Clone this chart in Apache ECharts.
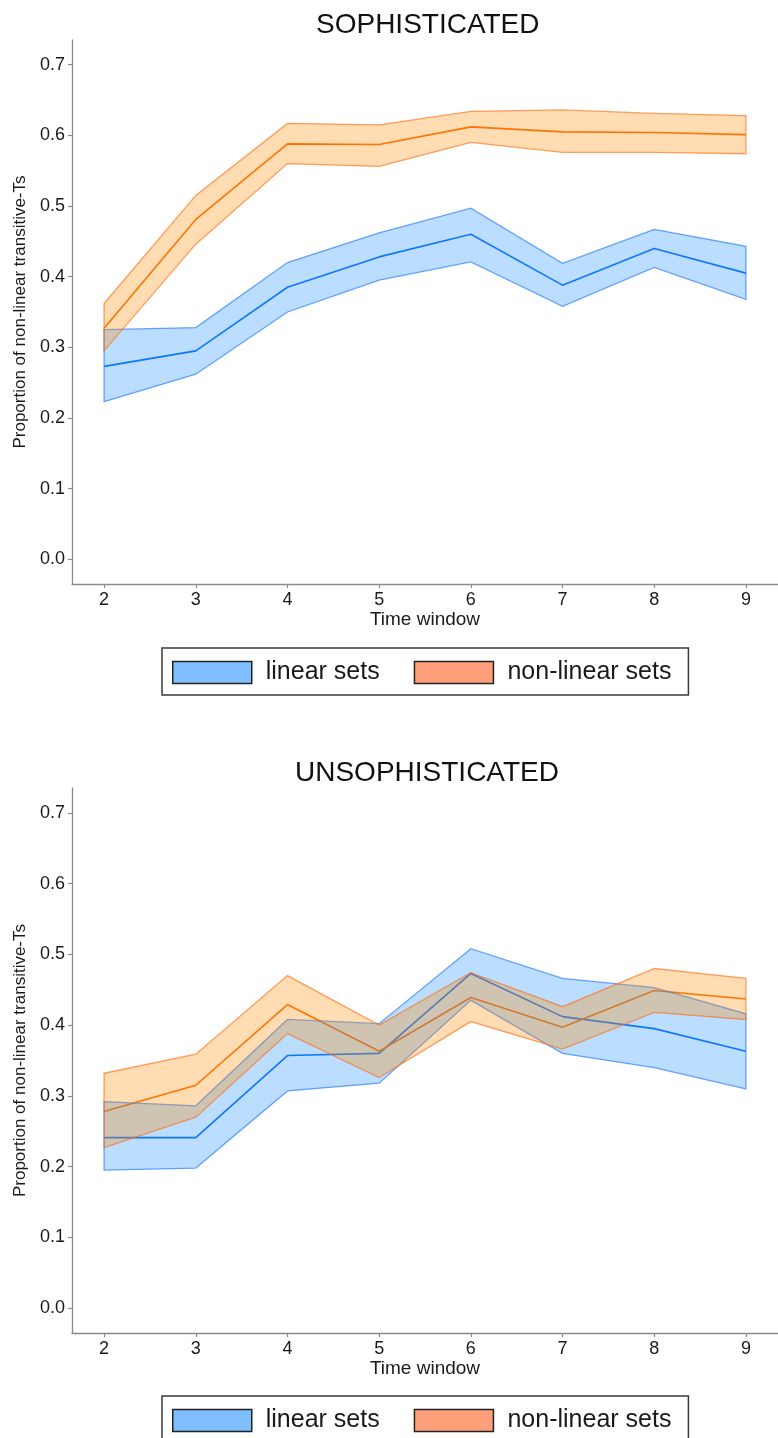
<!DOCTYPE html>
<html>
<head>
<meta charset="utf-8">
<style>
  html, body { margin: 0; padding: 0; background: #ffffff; }
  #chart { width: 778px; height: 1438px; }
</style>
<script src="https://cdn.jsdelivr.net/npm/echarts@6/dist/echarts.min.js"></script>
</head>
<body>
<div id="chart"></div>
<script>
// Time windows on the x axis
const timeWindows = [2, 3, 4, 5, 6, 7, 8, 9];
const yTicks = [0, 0.1, 0.2, 0.3, 0.4, 0.5, 0.6, 0.7];

// SOPHISTICATED panel: mean and ribbon bounds
const sophLinearMean = [0.273, 0.295, 0.385, 0.428, 0.460, 0.388, 0.440, 0.405];
const sophLinearLow  = [0.223, 0.262, 0.350, 0.395, 0.421, 0.358, 0.413, 0.368];
const sophLinearHigh = [0.325, 0.328, 0.420, 0.462, 0.497, 0.419, 0.467, 0.443];
const sophNonLinearMean = [0.327, 0.481, 0.588, 0.587, 0.612, 0.605, 0.604, 0.601];
const sophNonLinearLow  = [0.295, 0.446, 0.560, 0.556, 0.590, 0.576, 0.576, 0.574];
const sophNonLinearHigh = [0.362, 0.515, 0.617, 0.615, 0.634, 0.636, 0.631, 0.628];

// UNSOPHISTICATED panel: mean and ribbon bounds
const unsophLinearMean = [0.241, 0.241, 0.357, 0.360, 0.473, 0.412, 0.395, 0.363];
const unsophLinearLow  = [0.195, 0.198, 0.307, 0.318, 0.435, 0.360, 0.340, 0.310];
const unsophLinearHigh = [0.292, 0.286, 0.408, 0.402, 0.508, 0.466, 0.453, 0.416];
const unsophNonLinearMean = [0.278, 0.315, 0.429, 0.363, 0.439, 0.397, 0.449, 0.437];
const unsophNonLinearLow  = [0.227, 0.270, 0.388, 0.326, 0.405, 0.366, 0.418, 0.408];
const unsophNonLinearHigh = [0.332, 0.359, 0.470, 0.400, 0.474, 0.426, 0.480, 0.466];

const FONT = "'Liberation Sans', Arial, Helvetica, sans-serif";
const AXIS_GREY = '#8a8a8a';

const STYLE = {
  linear: {
    line: '#0a6cff',
    fill: 'rgba(30,144,255,0.30)',
    stroke: 'rgba(30,120,255,0.65)',
    key: '#80BFFF'
  },
  nonLinear: {
    line: '#ff6a00',
    fill: 'rgba(255,140,0,0.30)',
    stroke: 'rgba(255,110,20,0.65)',
    key: '#FFA07A'
  }
};

// One closed ribbon polygon (upper bound forward, lower bound back)
function ribbonRenderer(low, high, st) {
  return function (params, api) {
    if (params.dataIndex !== 0) return null;
    const pts = [];
    for (let i = 0; i < timeWindows.length; i++) pts.push(api.coord([timeWindows[i], high[i]]));
    for (let i = timeWindows.length - 1; i >= 0; i--) pts.push(api.coord([timeWindows[i], low[i]]));
    return {
      type: 'polygon',
      shape: { points: pts },
      style: { fill: st.fill, stroke: st.stroke, lineWidth: 1.3, lineJoin: 'miter' }
    };
  };
}

function ribbonSeries(name, idx, low, high, st) {
  return {
    name: name,
    type: 'custom',
    xAxisIndex: idx,
    yAxisIndex: idx,
    z: 3,
    clip: true,
    silent: true,
    encode: { x: 0, y: [1, 2] },
    data: timeWindows.map((x, i) => [x, low[i], high[i]]),
    renderItem: ribbonRenderer(low, high, st)
  };
}

function meanSeries(name, idx, mean, st) {
  return {
    name: name,
    type: 'line',
    xAxisIndex: idx,
    yAxisIndex: idx,
    z: 2,
    showSymbol: false,
    silent: true,
    lineStyle: { color: st.line, width: 1.6 },
    data: timeWindows.map((x, i) => [x, mean[i]])
  };
}

function xAxisFor(idx) {
  return {
    type: 'value',
    gridIndex: idx,
    min: 1.65,
    max: 9.35,
    name: 'Time window',
    nameLocation: 'middle',
    nameGap: 23,
    nameTextStyle: { fontFamily: FONT, fontSize: 19, color: '#1a1a1a' },
    axisLine: { show: true, onZero: false, lineStyle: { color: AXIS_GREY, width: 1.3 } },
    axisTick: { show: true, length: 4, customValues: timeWindows, lineStyle: { color: AXIS_GREY, width: 1.2 } },
    axisLabel: { customValues: timeWindows, margin: 7, fontFamily: FONT, fontSize: 18, color: '#1a1a1a' },
    splitLine: { show: false }
  };
}

function yAxisFor(idx) {
  return {
    type: 'value',
    gridIndex: idx,
    min: -0.035,
    max: 0.735,
    name: 'Proportion of non-linear transitive-Ts',
    nameLocation: 'middle',
    nameRotate: 90,
    nameGap: 38,
    nameTextStyle: { fontFamily: FONT, fontSize: 17, color: '#1a1a1a' },
    axisLine: { show: true, onZero: false, lineStyle: { color: AXIS_GREY, width: 1.3 } },
    axisTick: { show: true, length: 4, customValues: yTicks, lineStyle: { color: AXIS_GREY, width: 1.2 } },
    axisLabel: {
      customValues: yTicks,
      margin: 7,
      fontFamily: FONT,
      fontSize: 18,
      color: '#1a1a1a',
      formatter: v => v.toFixed(1)
    },
    splitLine: { show: false }
  };
}

function legendFor(top) {
  return {
    left: 162,
    top: top,
    orient: 'horizontal',
    icon: 'rect',
    itemWidth: 79,
    itemHeight: 22,
    itemGap: 34,
    padding: [12, 17, 10, 10],
    borderColor: '#3a3a3a',
    borderWidth: 1.5,
    selectedMode: false,
    textStyle: { fontFamily: FONT, fontSize: 25, color: '#1a1a1a', padding: [0, 0, 0, 9], lineHeight: 22 },
    data: [
      { name: 'linear sets', itemStyle: { color: STYLE.linear.key, borderColor: '#222', borderWidth: 1.5 } },
      { name: 'non-linear sets', itemStyle: { color: STYLE.nonLinear.key, borderColor: '#222', borderWidth: 1.5 } }
    ]
  };
}

const chart = echarts.init(document.getElementById('chart'), null, { renderer: 'canvas' });

chart.setOption({
  backgroundColor: '#ffffff',
  animation: false,
  title: [
    { text: 'SOPHISTICATED', left: 311, top: 6, textStyle: { fontFamily: FONT, fontSize: 28, fontWeight: 'normal', color: '#111' } },
    { text: 'UNSOPHISTICATED', left: 290, top: 754, textStyle: { fontFamily: FONT, fontSize: 28, fontWeight: 'normal', color: '#111' } }
  ],
  legend: [legendFor(648), legendFor(1396)],
  grid: [
    { left: 72, top: 40, height: 544, right: -8 },
    { left: 72, top: 788, height: 545, right: -8 }
  ],
  xAxis: [xAxisFor(0), xAxisFor(1)],
  yAxis: [yAxisFor(0), yAxisFor(1)],
  series: [
    meanSeries('linear mean', 0, sophLinearMean, STYLE.linear),
    meanSeries('non-linear mean', 0, sophNonLinearMean, STYLE.nonLinear),
    ribbonSeries('linear sets', 0, sophLinearLow, sophLinearHigh, STYLE.linear),
    ribbonSeries('non-linear sets', 0, sophNonLinearLow, sophNonLinearHigh, STYLE.nonLinear),

    meanSeries('linear mean', 1, unsophLinearMean, STYLE.linear),
    meanSeries('non-linear mean', 1, unsophNonLinearMean, STYLE.nonLinear),
    ribbonSeries('linear sets', 1, unsophLinearLow, unsophLinearHigh, STYLE.linear),
    ribbonSeries('non-linear sets', 1, unsophNonLinearLow, unsophNonLinearHigh, STYLE.nonLinear)
  ]
});
</script>
</body>
</html>
